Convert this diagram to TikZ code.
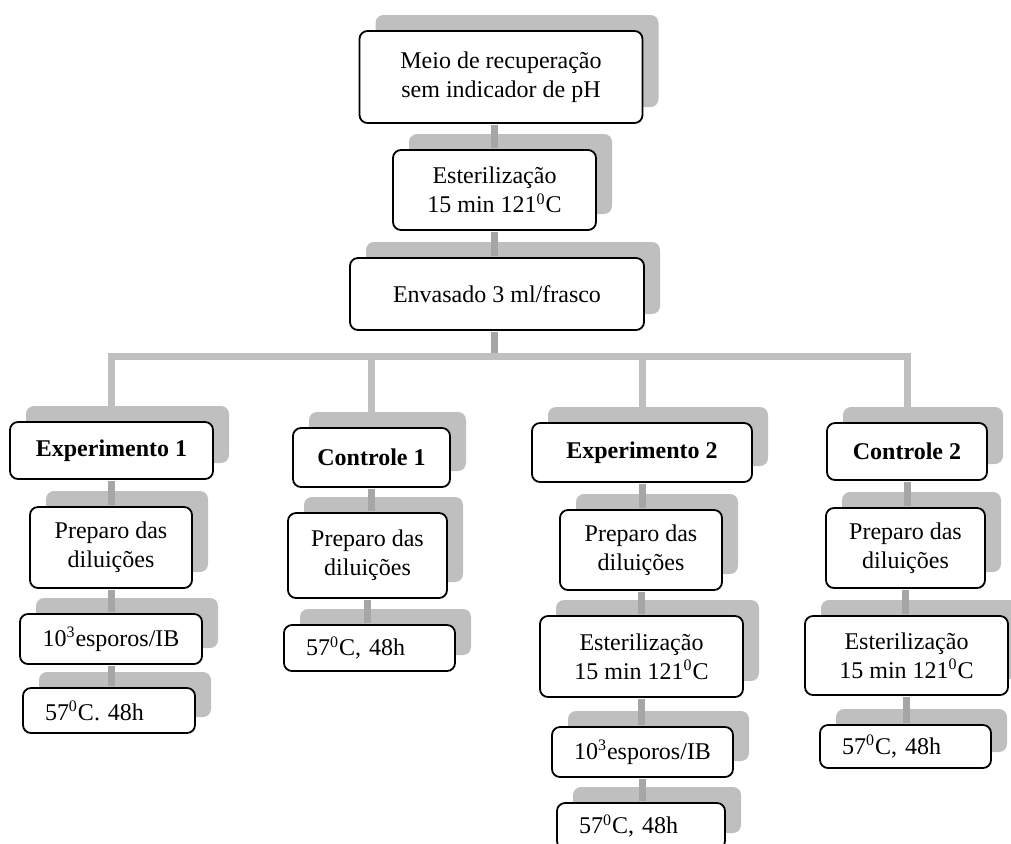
\documentclass[tikz,border=0pt]{standalone}
\usepackage{fontspec}
\setmainfont{Liberation Serif}
\usetikzlibrary{shadows}
\definecolor{shadowgray}{HTML}{BFBFBF}
\definecolor{linkgray}{HTML}{A6A6A6}
\definecolor{bargray}{HTML}{BFBFBF}

\begin{document}
\begin{tikzpicture}[x=0.5pt,y=-0.5pt,
  box/.style={draw=black, line width=0.9pt, rounded corners=4pt, fill=white,
    inner sep=0pt, align=center, font=\fontsize{12pt}{14.5pt}\selectfont,
    drop shadow={shadow xshift=8pt, shadow yshift=8pt, fill=shadowgray, opacity=1}},
  tempbox/.style={box, align=left, inner xsep=11pt},
  link/.style={draw=linkgray, line width=3.5pt, shorten <=0.45pt, shorten >=0.45pt},
  bar/.style={draw=bargray, line width=3.5pt, shorten >=0.45pt}]
\clip (0,0) rectangle (1011,843);

% top of the chart
\node[box, minimum width=141.5pt, minimum height=46pt] (meio) at (501,77) {Meio de recuperação\\sem indicador de pH};
\node[box, minimum width=101.5pt, minimum height=40pt] (ester) at (494.5,190) {Esterilização\\15 min 121\textsuperscript{0}C};
\node[box, minimum width=147pt, minimum height=36pt] (envas) at (497,294) {Envasado 3 ml/frasco};

% Experimento 1
\node[box, minimum width=101.5pt, minimum height=28.5pt] (expA) at (111.5,450.5) {\textbf{Experimento 1}};
\node[box, minimum width=81pt, minimum height=40.5pt] (prepA) at (111,547.5) {Preparo das\\diluições};
\node[box, minimum width=91pt, minimum height=25pt] (esporA) at (111,639) {10\textsuperscript{3}esporos/IB};
\node[tempbox, text width=64pt, minimum height=22.5pt] (tempA) at (109,710.5) {57\textsuperscript{0}C. 48h};

% Controle 1
\node[box, minimum width=78.5pt, minimum height=29.5pt] (ctlA) at (371.5,457.5) {\textbf{Controle 1}};
\node[box, minimum width=79.5pt, minimum height=42.5pt] (prepB) at (367.5,555.5) {Preparo das\\diluições};
\node[tempbox, text width=63.5pt, minimum height=23pt] (tempB) at (369.5,648) {57\textsuperscript{0}C, 48h};

% Experimento 2
\node[box, minimum width=110pt, minimum height=29.5pt] (expB) at (642,452.5) {\textbf{Experimento 2}};
\node[box, minimum width=81pt, minimum height=40pt] (prepC) at (641,550) {Preparo das\\diluições};
\node[box, minimum width=101.5pt, minimum height=40.5pt] (esterC) at (641.5,656.5) {Esterilização\\15 min 121\textsuperscript{0}C};
\node[box, minimum width=90.5pt, minimum height=25pt] (esporC) at (642.5,752) {10\textsuperscript{3}esporos/IB};
\node[tempbox, text width=62pt, minimum height=23pt] (tempC) at (641,826) {57\textsuperscript{0}C, 48h};

% Controle 2
\node[box, minimum width=80pt, minimum height=28.5pt] (ctlB) at (907,451.5) {\textbf{Controle 2}};
\node[box, minimum width=79.5pt, minimum height=40pt] (prepD) at (905.5,548) {Preparo das\\diluições};
\node[box, minimum width=101.5pt, minimum height=39.5pt] (esterD) at (906.5,655.5) {Esterilização\\15 min 121\textsuperscript{0}C};
\node[tempbox, text width=63.5pt, minimum height=21.5pt] (tempD) at (905.5,746.5) {57\textsuperscript{0}C, 48h};

% connectors
\coordinate (barY) at (0,356.5);
\draw[link] (ester.north) -- (ester.north |- meio.south);
\draw[link] (ester.south) -- (ester.south |- envas.north);
\draw[link] (envas.south -| ester) -- (ester |- barY);
\draw[bar] (expA.north) -- (expA.north |- barY) -| (ctlB.north);
\draw[bar] (ctlA.north |- barY) -- (ctlA.north);
\draw[bar] (expB.north |- barY) -- (expB.north);
\foreach \a/\b in {expA/prepA, prepA/esporA, esporA/tempA, ctlA/prepB, prepB/tempB,
    expB/prepC, prepC/esterC, esterC/esporC, esporC/tempC, ctlB/prepD, prepD/esterD, esterD/tempD}
  \draw[link] (\a.south) -- (\a.south |- \b.north);
\end{tikzpicture}
\end{document}
